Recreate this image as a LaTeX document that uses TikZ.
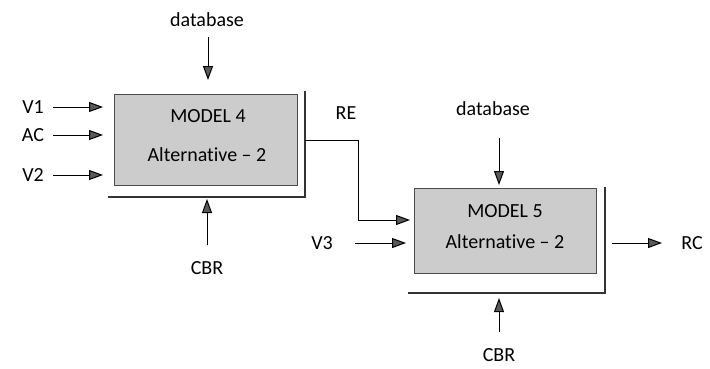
\documentclass[tikz,border=0pt]{standalone}
\usepackage{fontspec}
\setmainfont[Ligatures=NoCommon]{Carlito}
\usetikzlibrary{arrows.meta}
\begin{document}
\begin{tikzpicture}[x=1pt,y=-1pt,
  lbl/.style={font=\fontsize{20}{24}\selectfont, inner sep=0pt},
  model/.style={draw=gray!60!black, line width=0.8pt, fill=gray!40, inner sep=0pt},
  arr/.style={line width=1pt, -{Triangle[length=14pt,width=10pt,fill=black!65]}},
  frm/.style={line width=2.2pt, draw=black!80}]
\useasboundingbox (0,0) rectangle (710,368);
% boxes
\node[model, minimum width=183pt, minimum height=91pt] (m4) at (205.5,139.5) {};
\node[model, minimum width=182pt, minimum height=85pt] (m5) at (505,230.5) {};
\node[lbl] (m4a) at (208,116) {MODEL 4};
\node[lbl] (m4b) at (207,155) {Alternative -- 2};
\node[lbl] (m5a) at (505,211) {MODEL 5};
\node[lbl] (m5b) at (505,242) {Alternative -- 2};
% shadow frames
\coordinate (f4a) at (108,197);
\coordinate (f4b) at (305,197);
\coordinate (f4c) at (305,91);
\draw[frm] (f4a) -- (f4b) -- (f4c);
\coordinate (f5a) at (408,293);
\coordinate (f5b) at (605,293);
\coordinate (f5c) at (605,187);
\draw[frm] (f5a) -- (f5b) -- (f5c);
% labels
\node[lbl] (db1) at (207,20) {database};
\node[lbl] (v1) at (33,107) {V1};
\node[lbl] (ac) at (33,135) {AC};
\node[lbl] (v2) at (33,175) {V2};
\node[lbl] (re) at (346,113) {RE};
\node[lbl] (cbr1) at (207,268) {CBR};
\node[lbl] (db2) at (493,109) {database};
\node[lbl] (v3) at (322,243) {V3};
\node[lbl] (rc) at (692,243) {RC};
\node[lbl] (cbr2) at (499,355) {CBR};
% arrow end points
\coordinate (db1s) at (208,37);  \coordinate (db1e) at (208,80);
\coordinate (v1s) at (53,107);   \coordinate (v1e) at (103,107);
\coordinate (acs) at (53,135);   \coordinate (ace) at (103,135);
\coordinate (v2s) at (53,175);   \coordinate (v2e) at (103,175);
\coordinate (c1s) at (207,245);  \coordinate (c1e) at (207,199);
\coordinate (db2s) at (499,138); \coordinate (db2e) at (499,185);
\coordinate (v3s) at (355,243);  \coordinate (v3e) at (406,243);
\coordinate (rcs) at (612,243);  \coordinate (rce) at (662,243);
\coordinate (c2s) at (499,332);  \coordinate (c2e) at (499,298);
\coordinate (re0) at (305,140);  \coordinate (re1) at (358,140);
\coordinate (re2) at (358,220);  \coordinate (ree) at (410,220);
\draw[arr] (db1s) -- (db1e);
\draw[arr] (v1s) -- (v1e);
\draw[arr] (acs) -- (ace);
\draw[arr] (v2s) -- (v2e);
\draw[arr] (c1s) -- (c1e);
\draw[arr] (db2s) -- (db2e);
\draw[arr] (v3s) -- (v3e);
\draw[arr] (rcs) -- (rce);
\draw[arr] (c2s) -- (c2e);
\draw[arr] (re0) -- (re1) -- (re2) -- (ree);
\end{tikzpicture}
\end{document}
